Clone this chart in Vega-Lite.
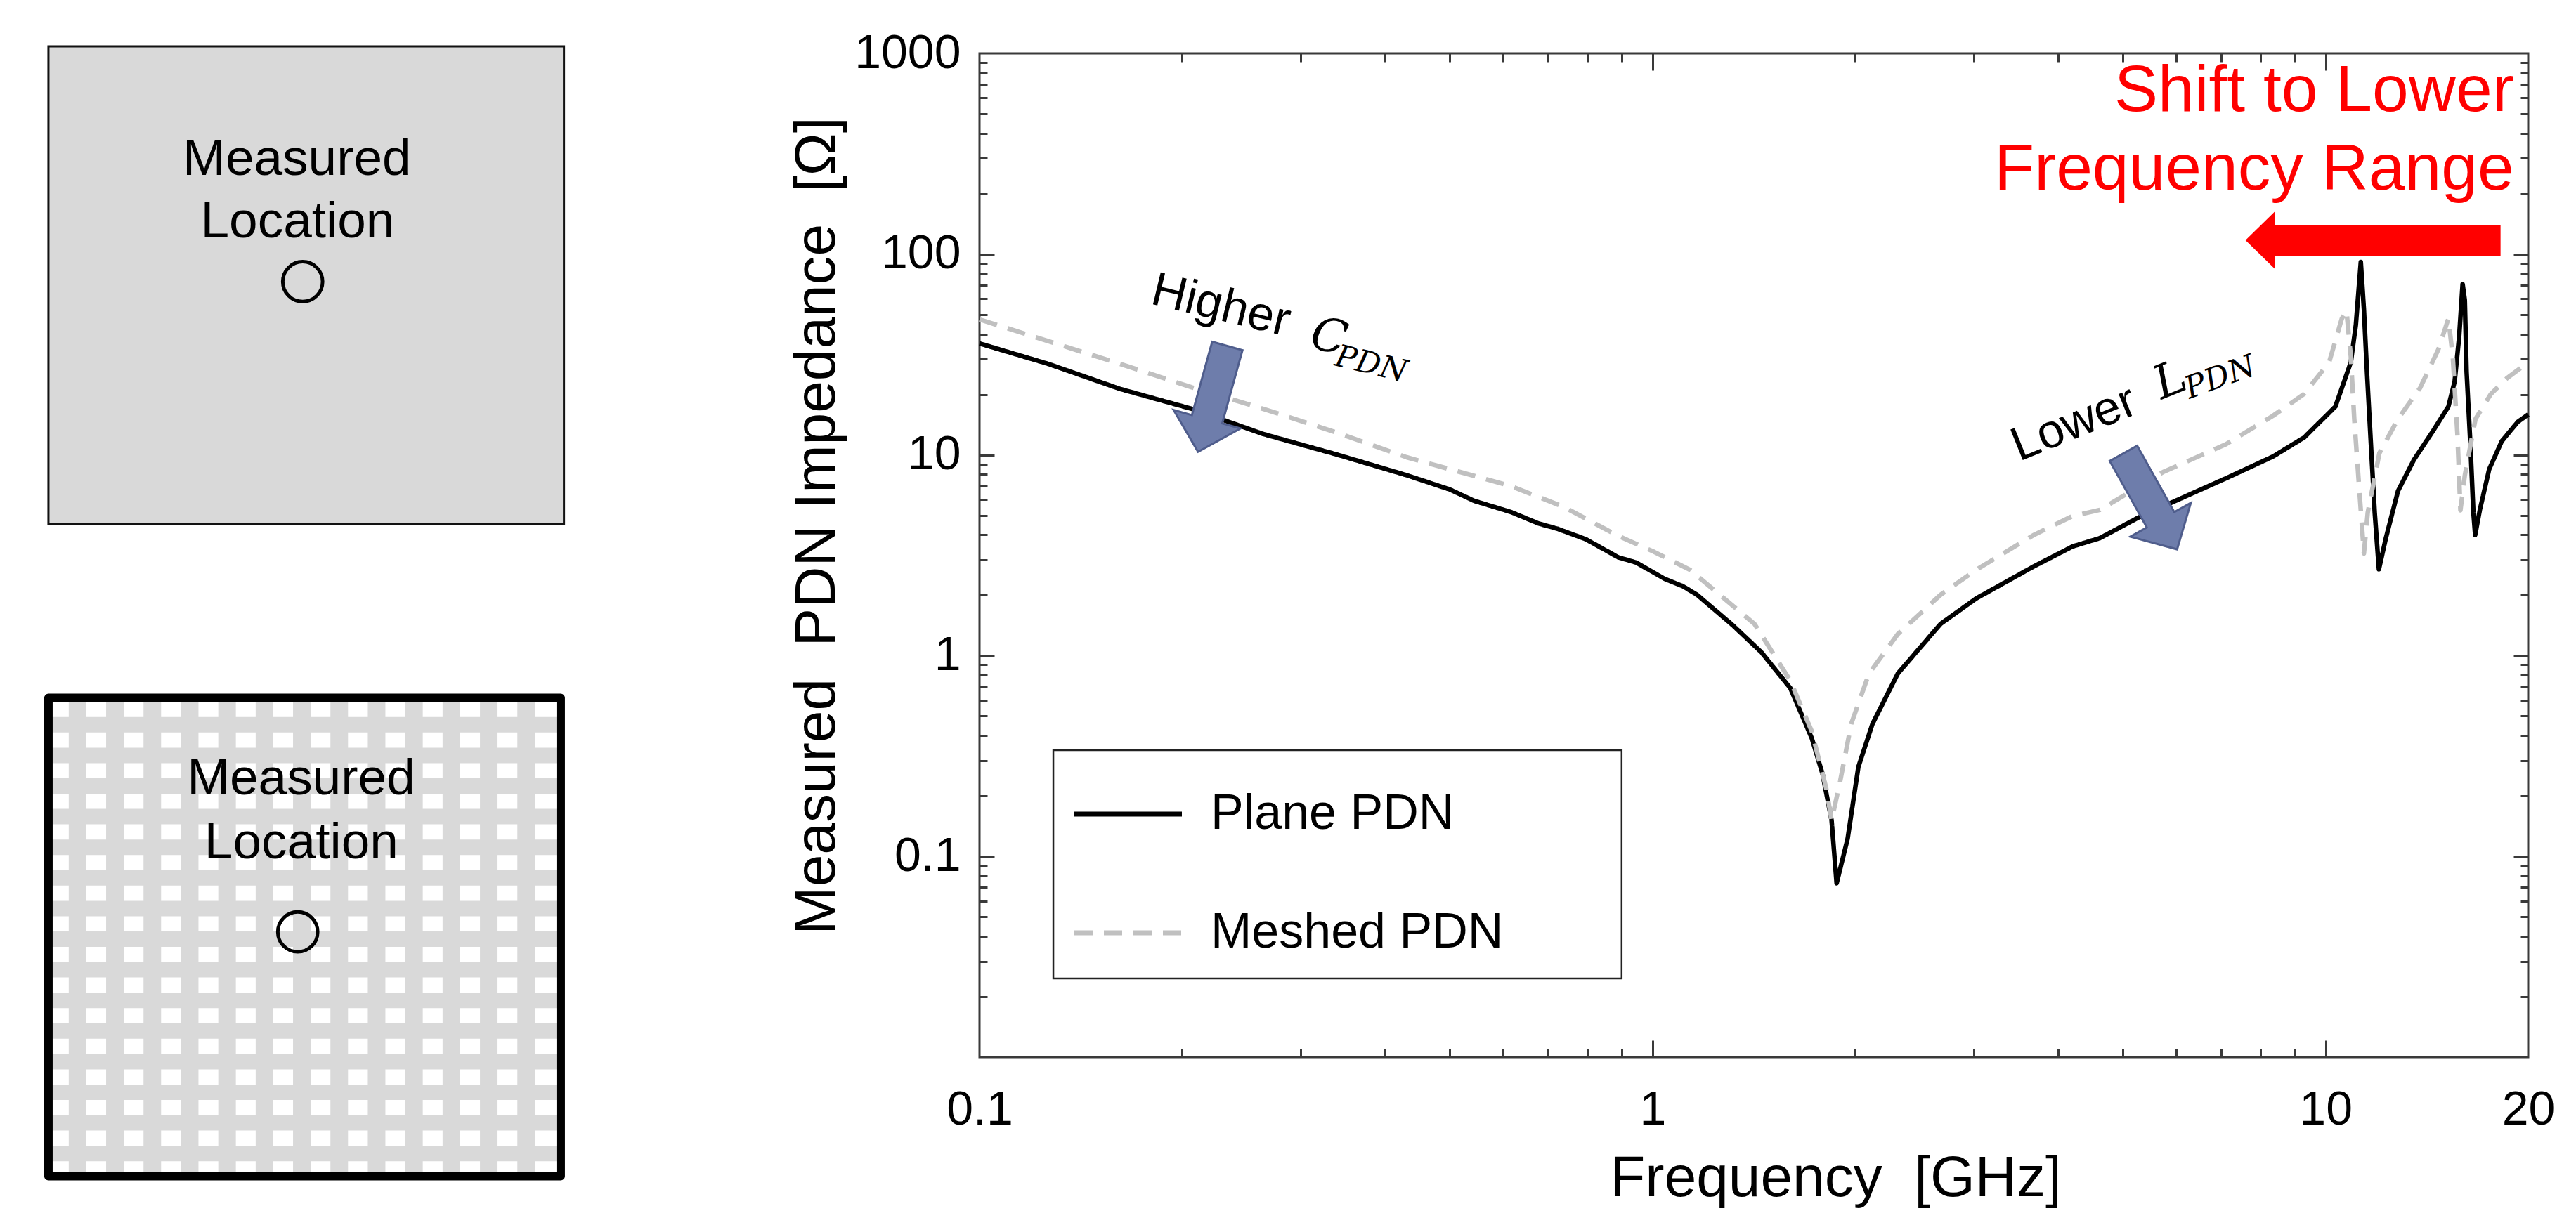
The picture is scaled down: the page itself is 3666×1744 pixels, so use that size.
{
  "$schema": "https://vega.github.io/schema/vega-lite/v6.json",
  "width": 2204,
  "height": 1429,
  "autosize": {"type": "none"},
  "padding": {"left": 1394, "top": 76, "right": 68, "bottom": 239},
  "background": "white",
  "config": {
    "font": "Liberation Sans",
    "view": {"stroke": "#3a3a3a", "strokeWidth": 3},
    "legend": {
      "orient": "none", "legendX": 131.5, "legendY": 1003, "direction": "vertical",
      "symbolType": "stroke", "symbolSize": 23409, "symbolStrokeWidth": 7,
      "labelFontSize": 70, "labelOffset": 37.5, "rowPadding": 54, "padding": 0,
      "labelLimit": 1000, "labelColor": "black", "labelFont": "Liberation Sans"
    }
  },
  "datasets": {
    "curves": [
      {"series": "Plane PDN", "f": 0.1, "z": 35.9},
      {"series": "Plane PDN", "f": 0.1265, "z": 28.4},
      {"series": "Plane PDN", "f": 0.1618, "z": 21.3},
      {"series": "Plane PDN", "f": 0.2067, "z": 16.96},
      {"series": "Plane PDN", "f": 0.264, "z": 12.7},
      {"series": "Plane PDN", "f": 0.3375, "z": 10.1},
      {"series": "Plane PDN", "f": 0.4312, "z": 7.92},
      {"series": "Plane PDN", "f": 0.5, "z": 6.72},
      {"series": "Plane PDN", "f": 0.5434, "z": 5.9},
      {"series": "Plane PDN", "f": 0.6153, "z": 5.2},
      {"series": "Plane PDN", "f": 0.6773, "z": 4.55},
      {"series": "Plane PDN", "f": 0.7218, "z": 4.29},
      {"series": "Plane PDN", "f": 0.796, "z": 3.8},
      {"series": "Plane PDN", "f": 0.889, "z": 3.09},
      {"series": "Plane PDN", "f": 0.9453, "z": 2.91},
      {"series": "Plane PDN", "f": 1.043, "z": 2.41},
      {"series": "Plane PDN", "f": 1.1087, "z": 2.22},
      {"series": "Plane PDN", "f": 1.1644, "z": 2.01},
      {"series": "Plane PDN", "f": 1.315, "z": 1.42},
      {"series": "Plane PDN", "f": 1.451, "z": 1.04},
      {"series": "Plane PDN", "f": 1.602, "z": 0.689},
      {"series": "Plane PDN", "f": 1.724, "z": 0.388},
      {"series": "Plane PDN", "f": 1.789, "z": 0.257},
      {"series": "Plane PDN", "f": 1.845, "z": 0.151},
      {"series": "Plane PDN", "f": 1.877, "z": 0.0734},
      {"series": "Plane PDN", "f": 1.949, "z": 0.1225},
      {"series": "Plane PDN", "f": 2.022, "z": 0.279},
      {"series": "Plane PDN", "f": 2.122, "z": 0.457},
      {"series": "Plane PDN", "f": 2.314, "z": 0.814},
      {"series": "Plane PDN", "f": 2.679, "z": 1.44},
      {"series": "Plane PDN", "f": 3.028, "z": 1.93},
      {"series": "Plane PDN", "f": 3.69, "z": 2.79},
      {"series": "Plane PDN", "f": 4.21, "z": 3.5},
      {"series": "Plane PDN", "f": 4.62, "z": 3.85},
      {"series": "Plane PDN", "f": 5.27, "z": 4.87},
      {"series": "Plane PDN", "f": 5.735, "z": 5.54},
      {"series": "Plane PDN", "f": 7.11, "z": 7.64},
      {"series": "Plane PDN", "f": 8.35, "z": 9.81},
      {"series": "Plane PDN", "f": 9.29, "z": 12.2},
      {"series": "Plane PDN", "f": 10.34, "z": 17.4},
      {"series": "Plane PDN", "f": 10.9, "z": 28.9},
      {"series": "Plane PDN", "f": 11.09, "z": 44.4},
      {"series": "Plane PDN", "f": 11.28, "z": 91.4},
      {"series": "Plane PDN", "f": 11.4, "z": 53},
      {"series": "Plane PDN", "f": 11.52, "z": 25.9},
      {"series": "Plane PDN", "f": 11.69, "z": 10.5},
      {"series": "Plane PDN", "f": 11.83, "z": 5.15},
      {"series": "Plane PDN", "f": 12.0, "z": 2.69},
      {"series": "Plane PDN", "f": 12.29, "z": 3.85},
      {"series": "Plane PDN", "f": 12.81, "z": 6.61},
      {"series": "Plane PDN", "f": 13.53, "z": 9.46},
      {"series": "Plane PDN", "f": 14.43, "z": 13.1},
      {"series": "Plane PDN", "f": 15.22, "z": 17.4},
      {"series": "Plane PDN", "f": 15.55, "z": 23.2},
      {"series": "Plane PDN", "f": 15.79, "z": 38.6},
      {"series": "Plane PDN", "f": 15.98, "z": 70.9},
      {"series": "Plane PDN", "f": 16.1, "z": 59},
      {"series": "Plane PDN", "f": 16.2, "z": 25.9},
      {"series": "Plane PDN", "f": 16.41, "z": 11.3},
      {"series": "Plane PDN", "f": 16.58, "z": 5.15},
      {"series": "Plane PDN", "f": 16.68, "z": 3.99},
      {"series": "Plane PDN", "f": 16.95, "z": 5.32},
      {"series": "Plane PDN", "f": 17.5, "z": 8.48},
      {"series": "Plane PDN", "f": 18.27, "z": 11.7},
      {"series": "Plane PDN", "f": 19.3, "z": 14.6},
      {"series": "Plane PDN", "f": 20, "z": 15.9},
      {"series": "Meshed PDN", "f": 0.1, "z": 47.3},
      {"series": "Meshed PDN", "f": 0.1618, "z": 28.4},
      {"series": "Meshed PDN", "f": 0.2067, "z": 21.7},
      {"series": "Meshed PDN", "f": 0.264, "z": 16.96},
      {"series": "Meshed PDN", "f": 0.3375, "z": 13.0},
      {"series": "Meshed PDN", "f": 0.4312, "z": 9.73},
      {"series": "Meshed PDN", "f": 0.6153, "z": 7.0},
      {"series": "Meshed PDN", "f": 0.7396, "z": 5.49},
      {"series": "Meshed PDN", "f": 0.889, "z": 3.95},
      {"series": "Meshed PDN", "f": 1.0048, "z": 3.29},
      {"series": "Meshed PDN", "f": 1.136, "z": 2.68},
      {"series": "Meshed PDN", "f": 1.417, "z": 1.44},
      {"series": "Meshed PDN", "f": 1.602, "z": 0.75},
      {"series": "Meshed PDN", "f": 1.724, "z": 0.42},
      {"series": "Meshed PDN", "f": 1.811, "z": 0.219},
      {"series": "Meshed PDN", "f": 1.845, "z": 0.151},
      {"series": "Meshed PDN", "f": 1.9, "z": 0.237},
      {"series": "Meshed PDN", "f": 1.973, "z": 0.457},
      {"series": "Meshed PDN", "f": 2.097, "z": 0.814},
      {"series": "Meshed PDN", "f": 2.314, "z": 1.28},
      {"series": "Meshed PDN", "f": 2.679, "z": 2.01},
      {"series": "Meshed PDN", "f": 3.028, "z": 2.68},
      {"series": "Meshed PDN", "f": 3.69, "z": 4.0},
      {"series": "Meshed PDN", "f": 4.21, "z": 4.96},
      {"series": "Meshed PDN", "f": 4.62, "z": 5.32},
      {"series": "Meshed PDN", "f": 5.735, "z": 8.21},
      {"series": "Meshed PDN", "f": 7.11, "z": 11.3},
      {"series": "Meshed PDN", "f": 8.35, "z": 15.65},
      {"series": "Meshed PDN", "f": 9.29, "z": 20.1},
      {"series": "Meshed PDN", "f": 10.12, "z": 28.9},
      {"series": "Meshed PDN", "f": 10.57, "z": 47.7},
      {"series": "Meshed PDN", "f": 10.74, "z": 52.2},
      {"series": "Meshed PDN", "f": 10.9, "z": 31},
      {"series": "Meshed PDN", "f": 11.03, "z": 15.1},
      {"series": "Meshed PDN", "f": 11.2, "z": 7.36},
      {"series": "Meshed PDN", "f": 11.4, "z": 3.23},
      {"series": "Meshed PDN", "f": 11.55, "z": 5.15},
      {"series": "Meshed PDN", "f": 12.02, "z": 10.2},
      {"series": "Meshed PDN", "f": 12.81, "z": 15.1},
      {"series": "Meshed PDN", "f": 13.82, "z": 21.6},
      {"series": "Meshed PDN", "f": 14.7, "z": 33.4},
      {"series": "Meshed PDN", "f": 15.22, "z": 47.7},
      {"series": "Meshed PDN", "f": 15.45, "z": 31},
      {"series": "Meshed PDN", "f": 15.7, "z": 12.6},
      {"series": "Meshed PDN", "f": 15.86, "z": 5.3},
      {"series": "Meshed PDN", "f": 16.1, "z": 7.9},
      {"series": "Meshed PDN", "f": 16.7, "z": 15.1},
      {"series": "Meshed PDN", "f": 17.6, "z": 20.1},
      {"series": "Meshed PDN", "f": 18.6, "z": 24.1},
      {"series": "Meshed PDN", "f": 20, "z": 28.9}
    ],
    "legendBox": [{"f": 0.12873, "f2": 0.8996, "z": 0.33806, "z2": 0.024649}],
    "redArrow": [{"f": 11.761, "z": 117.3}],
    "redText": [
      {"f": 19.045, "z": 516.6, "label": "Shift to Lower"},
      {"f": 19.045, "z": 209.5, "label": "Frequency Range"}
    ],
    "arrowC": [{"f": 0.22203, "z": 19.005}],
    "arrowL": [{"f": 5.489, "z": 5.868}],
    "higher": [{"f": 0.17865, "z": 56.81, "label": "Higher"}],
    "cSym": [{"f": 0.30794, "z": 34.46, "label": "C"}],
    "cSub": [{"f": 0.33578, "z": 27.96, "label": "PDN"}],
    "lower": [{"f": 3.504, "z": 9.279, "label": "Lower"}],
    "lSym": [{"f": 5.698, "z": 18.84, "label": "L"}],
    "lSub": [{"f": 6.274, "z": 18.99, "label": "PDN"}],
    "box1": [{"u": 0, "u2": 100.5, "v": 0, "v2": 100}],
    "box2": [{"u": 0, "u2": 99.86, "v": 136.4, "v2": 236.54}],
    "meshV": [
      {"u": 5.671}, {"u": 12.959}, {"u": 20.247}, {"u": 27.534}, {"u": 34.822},
      {"u": 42.11}, {"u": 49.397}, {"u": 56.685}, {"u": 63.973}, {"u": 71.26},
      {"u": 78.548}, {"u": 85.836}, {"u": 93.123}
    ],
    "meshH": [
      {"v": 142.03}, {"v": 148.44}, {"v": 154.85}, {"v": 161.26}, {"v": 167.68},
      {"v": 174.09}, {"v": 180.5}, {"v": 186.91}, {"v": 193.32}, {"v": 199.74},
      {"v": 206.15}, {"v": 212.56}, {"v": 218.97}, {"v": 225.38}, {"v": 231.79}
    ],
    "boxLabels": [
      {"u": 48.42, "v": 26.9, "label": "Measured"},
      {"u": 48.56, "v": 40.0, "label": "Location"},
      {"u": 49.25, "v": 156.6, "label": "Measured"},
      {"u": 49.3, "v": 170.0, "label": "Location"}
    ],
    "probes": [{"u": 49.56, "v": 49.26}, {"u": 48.6, "v": 185.4}]
  },
  "layer": [
    {
      "resolve": {"axis": {"x": "independent", "y": "independent"}},
      "layer": [
        {
          "data": {"name": "curves"},
          "mark": {"type": "line", "strokeWidth": 6.5, "strokeJoin": "round"},
          "encoding": {
            "x": {"field": "f", "type": "quantitative", "scale": {"type": "log", "domain": [0.1, 20], "nice": false},
              "axis": {"orient": "bottom", "values": [0.1, 1, 10, 20], "format": "~g", "labelFlush": false, "labelOverlap": false,
                "ticks": false, "domain": false, "grid": false, "labelPadding": 41, "labelFontSize": 68, "labelColor": "black",
                "title": "Frequency\u00a0 [GHz]", "titleFontSize": 82, "titleFontWeight": "normal", "titleColor": "black",
                "titleX": 1218, "titleY": 197, "titleAlign": "center", "titleBaseline": "alphabetic"}},
            "y": {"field": "z", "type": "quantitative", "scale": {"type": "log", "domain": [0.01, 1000], "nice": false},
              "axis": {"orient": "left", "values": [0.1, 1, 10, 100, 1000], "format": "~g", "labelOverlap": false,
                "ticks": false, "domain": false, "grid": false, "labelPadding": 27, "labelFontSize": 68, "labelColor": "black",
                "title": "Measured\u00a0 PDN Impedance\u00a0 [\u03a9]", "titleFontSize": 82, "titleFontWeight": "normal", "titleColor": "black",
                "titleAngle": -90, "titleX": -207, "titleY": 672, "titleAlign": "center", "titleBaseline": "alphabetic"}},
            "color": {"field": "series", "type": "nominal", "scale": {"domain": ["Plane PDN", "Meshed PDN"], "range": ["#000000", "#c0c0c0"]}, "legend": {"title": null}},
            "strokeDash": {"field": "series", "type": "nominal", "scale": {"domain": ["Plane PDN", "Meshed PDN"], "range": [[1, 0], [26, 16]]}, "legend": {"title": null}}
          }
        },
        {
          "data": {"name": "legendBox"},
          "mark": {"type": "rect", "filled": false, "color": "#222222", "strokeWidth": 2.5},
          "encoding": {
            "x": {"field": "f", "type": "quantitative", "scale": {"type": "log", "domain": [0.1, 20], "nice": false},
              "axis": {"orient": "bottom", "values": [1, 10], "labels": false, "ticks": true, "tickSize": -24, "tickWidth": 3, "tickColor": "#3a3a3a", "domain": false, "grid": false, "title": null}},
            "x2": {"field": "f2"},
            "y": {"field": "z", "type": "quantitative", "scale": {"type": "log", "domain": [0.01, 1000], "nice": false},
              "axis": {"orient": "left", "values": [0.1, 1, 10, 100], "labels": false, "ticks": true, "tickSize": -21, "tickWidth": 3, "tickColor": "#3a3a3a", "domain": false, "grid": false, "title": null}},
            "y2": {"field": "z2"}
          }
        },
        {
          "data": {"name": "redArrow"},
          "mark": {"type": "point", "shape": "M-1,0L-0.769,-0.226L-0.769,-0.121L1,-0.121L1,0.121L-0.769,0.121L-0.769,0.226Z", "size": 131769, "filled": true, "fill": "#ff0000", "strokeWidth": 0, "opacity": 1},
          "encoding": {
            "x": {"field": "f", "type": "quantitative", "scale": {"type": "log", "domain": [0.1, 20], "nice": false},
              "axis": {"orient": "bottom", "values": [0.2, 0.3, 0.4, 0.5, 0.6, 0.7, 0.8, 0.9, 2, 3, 4, 5, 6, 7, 8, 9], "labels": false, "ticks": true, "tickSize": -12, "tickWidth": 3, "tickColor": "#3a3a3a", "domain": false, "grid": false, "title": null}},
            "y": {"field": "z", "type": "quantitative", "scale": {"type": "log", "domain": [0.01, 1000], "nice": false},
              "axis": {"orient": "left", "values": [0.02, 0.03, 0.04, 0.05, 0.06, 0.07, 0.08, 0.09, 0.2, 0.3, 0.4, 0.5, 0.6, 0.7, 0.8, 0.9, 2, 3, 4, 5, 6, 7, 8, 9, 20, 30, 40, 50, 60, 70, 80, 90, 200, 300, 400, 500, 600, 700, 800, 900], "labels": false, "ticks": true, "tickSize": -11, "tickWidth": 3, "tickColor": "#3a3a3a", "domain": false, "grid": false, "title": null}}
          }
        },
        {
          "data": {"name": "redText"},
          "mark": {"type": "text", "align": "right", "baseline": "alphabetic", "fontSize": 93, "color": "#ff0000"},
          "encoding": {
            "x": {"field": "f", "type": "quantitative", "scale": {"type": "log", "domain": [0.1, 20], "nice": false},
              "axis": {"orient": "top", "values": [1, 10], "labels": false, "ticks": true, "tickSize": -24, "tickWidth": 3, "tickColor": "#3a3a3a", "domain": false, "grid": false, "title": null}},
            "y": {"field": "z", "type": "quantitative", "scale": {"type": "log", "domain": [0.01, 1000], "nice": false},
              "axis": {"orient": "right", "values": [0.1, 1, 10, 100], "labels": false, "ticks": true, "tickSize": -21, "tickWidth": 3, "tickColor": "#3a3a3a", "domain": false, "grid": false, "title": null}},
            "text": {"field": "label"}
          }
        },
        {
          "data": {"name": "arrowC"},
          "mark": {"type": "point", "shape": "M-0.286,-1L0.286,-1L0.286,0.383L0.631,0.383L0,1L-0.631,0.383L-0.286,0.383Z", "size": 24492, "angle": 15.45, "filled": true, "fill": "#6e7dab", "stroke": "#4f5d8c", "strokeWidth": 3, "opacity": 1},
          "encoding": {
            "x": {"field": "f", "type": "quantitative", "scale": {"type": "log", "domain": [0.1, 20], "nice": false},
              "axis": {"orient": "top", "values": [0.2, 0.3, 0.4, 0.5, 0.6, 0.7, 0.8, 0.9, 2, 3, 4, 5, 6, 7, 8, 9], "labels": false, "ticks": true, "tickSize": -12, "tickWidth": 3, "tickColor": "#3a3a3a", "domain": false, "grid": false, "title": null}},
            "y": {"field": "z", "type": "quantitative", "scale": {"type": "log", "domain": [0.01, 1000], "nice": false},
              "axis": {"orient": "right", "values": [0.02, 0.03, 0.04, 0.05, 0.06, 0.07, 0.08, 0.09, 0.2, 0.3, 0.4, 0.5, 0.6, 0.7, 0.8, 0.9, 2, 3, 4, 5, 6, 7, 8, 9, 20, 30, 40, 50, 60, 70, 80, 90, 200, 300, 400, 500, 600, 700, 800, 900], "labels": false, "ticks": true, "tickSize": -11, "tickWidth": 3, "tickColor": "#3a3a3a", "domain": false, "grid": false, "title": null}}
          }
        },
        {
          "data": {"name": "arrowL"},
          "mark": {"type": "point", "shape": "M-0.286,-1L0.286,-1L0.286,0.383L0.631,0.383L0,1L-0.631,0.383L-0.286,0.383Z", "size": 24492, "angle": -29.2, "filled": true, "fill": "#6e7dab", "stroke": "#4f5d8c", "strokeWidth": 3, "opacity": 1},
          "encoding": {
            "x": {"field": "f", "type": "quantitative", "scale": {"type": "log", "domain": [0.1, 20], "nice": false}, "axis": null},
            "y": {"field": "z", "type": "quantitative", "scale": {"type": "log", "domain": [0.01, 1000], "nice": false}, "axis": null}
          }
        },
        {
          "data": {"name": "higher"},
          "mark": {"type": "text", "align": "left", "baseline": "alphabetic", "angle": 13.5, "fontSize": 68, "color": "black"},
          "encoding": {
            "x": {"field": "f", "type": "quantitative", "scale": {"type": "log", "domain": [0.1, 20], "nice": false}, "axis": null},
            "y": {"field": "z", "type": "quantitative", "scale": {"type": "log", "domain": [0.01, 1000], "nice": false}, "axis": null},
            "text": {"field": "label"}
          }
        },
        {
          "data": {"name": "cSym"},
          "mark": {"type": "text", "align": "left", "baseline": "alphabetic", "angle": 13.5, "fontSize": 66, "font": "DejaVu Serif", "fontStyle": "italic", "color": "black"},
          "encoding": {
            "x": {"field": "f", "type": "quantitative", "scale": {"type": "log", "domain": [0.1, 20], "nice": false}, "axis": null},
            "y": {"field": "z", "type": "quantitative", "scale": {"type": "log", "domain": [0.01, 1000], "nice": false}, "axis": null},
            "text": {"field": "label"}
          }
        },
        {
          "data": {"name": "cSub"},
          "mark": {"type": "text", "align": "left", "baseline": "alphabetic", "angle": 13.5, "fontSize": 44, "font": "DejaVu Serif", "fontStyle": "italic", "color": "black"},
          "encoding": {
            "x": {"field": "f", "type": "quantitative", "scale": {"type": "log", "domain": [0.1, 20], "nice": false}, "axis": null},
            "y": {"field": "z", "type": "quantitative", "scale": {"type": "log", "domain": [0.01, 1000], "nice": false}, "axis": null},
            "text": {"field": "label"}
          }
        },
        {
          "data": {"name": "lower"},
          "mark": {"type": "text", "align": "left", "baseline": "alphabetic", "angle": -22, "fontSize": 68, "color": "black"},
          "encoding": {
            "x": {"field": "f", "type": "quantitative", "scale": {"type": "log", "domain": [0.1, 20], "nice": false}, "axis": null},
            "y": {"field": "z", "type": "quantitative", "scale": {"type": "log", "domain": [0.01, 1000], "nice": false}, "axis": null},
            "text": {"field": "label"}
          }
        },
        {
          "data": {"name": "lSym"},
          "mark": {"type": "text", "align": "left", "baseline": "alphabetic", "angle": -22, "fontSize": 66, "font": "DejaVu Serif", "fontStyle": "italic", "color": "black"},
          "encoding": {
            "x": {"field": "f", "type": "quantitative", "scale": {"type": "log", "domain": [0.1, 20], "nice": false}, "axis": null},
            "y": {"field": "z", "type": "quantitative", "scale": {"type": "log", "domain": [0.01, 1000], "nice": false}, "axis": null},
            "text": {"field": "label"}
          }
        },
        {
          "data": {"name": "lSub"},
          "mark": {"type": "text", "align": "left", "baseline": "alphabetic", "angle": -20, "fontSize": 44, "font": "DejaVu Serif", "fontStyle": "italic", "color": "black"},
          "encoding": {
            "x": {"field": "f", "type": "quantitative", "scale": {"type": "log", "domain": [0.1, 20], "nice": false}, "axis": null},
            "y": {"field": "z", "type": "quantitative", "scale": {"type": "log", "domain": [0.01, 1000], "nice": false}, "axis": null},
            "text": {"field": "label"}
          }
        }
      ]
    },
    {
      "layer": [
        {
          "data": {"name": "box1"},
          "mark": {"type": "rect", "fill": "#d9d9d9", "stroke": "#111111", "strokeWidth": 3},
          "encoding": {
            "x": {"field": "u", "type": "quantitative", "scale": {"type": "linear", "domain": [181.51, 483.42], "nice": false, "zero": false}, "axis": null},
            "x2": {"field": "u2"},
            "y": {"field": "v", "type": "quantitative", "scale": {"type": "linear", "domain": [1.4706, 211.62], "nice": false, "zero": false, "reverse": true}, "axis": null},
            "y2": {"field": "v2"}
          }
        },
        {
          "data": {"name": "box2"},
          "mark": {"type": "rect", "fill": "#ffffff", "strokeWidth": 0},
          "encoding": {
            "x": {"field": "u", "type": "quantitative", "scale": {"type": "linear", "domain": [181.51, 483.42], "nice": false, "zero": false}, "axis": null},
            "x2": {"field": "u2"},
            "y": {"field": "v", "type": "quantitative", "scale": {"type": "linear", "domain": [1.4706, 211.62], "nice": false, "zero": false, "reverse": true}, "axis": null},
            "y2": {"field": "v2"}
          }
        },
        {
          "data": {"name": "meshV"},
          "mark": {"type": "rule", "color": "#d9d9d9", "strokeWidth": 25},
          "encoding": {
            "x": {"field": "u", "type": "quantitative", "scale": {"type": "linear", "domain": [181.51, 483.42], "nice": false, "zero": false}, "axis": null},
            "y": {"datum": 136.4, "type": "quantitative", "scale": {"type": "linear", "domain": [1.4706, 211.62], "nice": false, "zero": false, "reverse": true}, "axis": null},
            "y2": {"datum": 236.54}
          }
        },
        {
          "data": {"name": "meshH"},
          "mark": {"type": "rule", "color": "#d9d9d9", "strokeWidth": 22},
          "encoding": {
            "y": {"field": "v", "type": "quantitative", "scale": {"type": "linear", "domain": [1.4706, 211.62], "nice": false, "zero": false, "reverse": true}, "axis": null},
            "x": {"datum": 0, "type": "quantitative", "scale": {"type": "linear", "domain": [181.51, 483.42], "nice": false, "zero": false}, "axis": null},
            "x2": {"datum": 99.86}
          }
        },
        {
          "data": {"name": "box2"},
          "mark": {"type": "rect", "filled": false, "color": "#000000", "strokeWidth": 12, "strokeJoin": "round"},
          "encoding": {
            "x": {"field": "u", "type": "quantitative", "scale": {"type": "linear", "domain": [181.51, 483.42], "nice": false, "zero": false}, "axis": null},
            "x2": {"field": "u2"},
            "y": {"field": "v", "type": "quantitative", "scale": {"type": "linear", "domain": [1.4706, 211.62], "nice": false, "zero": false, "reverse": true}, "axis": null},
            "y2": {"field": "v2"}
          }
        },
        {
          "data": {"name": "boxLabels"},
          "mark": {"type": "text", "align": "center", "baseline": "alphabetic", "fontSize": 73, "color": "black"},
          "encoding": {
            "x": {"field": "u", "type": "quantitative", "scale": {"type": "linear", "domain": [181.51, 483.42], "nice": false, "zero": false}, "axis": null},
            "y": {"field": "v", "type": "quantitative", "scale": {"type": "linear", "domain": [1.4706, 211.62], "nice": false, "zero": false, "reverse": true}, "axis": null},
            "text": {"field": "label"}
          }
        },
        {
          "data": {"name": "probes"},
          "mark": {"type": "point", "shape": "circle", "size": 3217, "filled": false, "stroke": "#000000", "strokeWidth": 5, "opacity": 1},
          "encoding": {
            "x": {"field": "u", "type": "quantitative", "scale": {"type": "linear", "domain": [181.51, 483.42], "nice": false, "zero": false}, "axis": null},
            "y": {"field": "v", "type": "quantitative", "scale": {"type": "linear", "domain": [1.4706, 211.62], "nice": false, "zero": false, "reverse": true}, "axis": null}
          }
        }
      ]
    }
  ],
  "resolve": {"scale": {"x": "independent", "y": "independent"}}
}
